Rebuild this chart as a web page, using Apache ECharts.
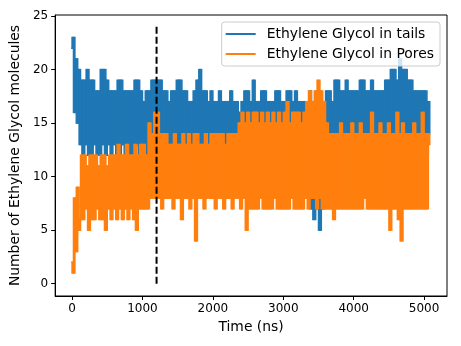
<!DOCTYPE html>
<html>
<head>
<meta charset="utf-8">
<script src="https://cdn.jsdelivr.net/npm/echarts@6/dist/echarts.min.js"></script>
<style>
  html, body { margin: 0; padding: 0; background: #fff; }
  #chart { width: 461px; height: 346px; }
</style>
</head>
<body>
<div id="chart"></div>
<script>
// sampling step of the time series (ns)
var timeStep = 20;

// Ethylene Glycol in tails, one value every 20 ns (rows of 400 ns)
var tails = [
  22, 23, 16, 21, 15, 20, 13, 19, 12, 19, 13, 20, 12, 19, 12, 19, 13, 18, 12, 18,
  12, 20, 13, 20, 12, 19, 13, 18, 12, 18, 13, 18, 11, 19, 12, 19, 13, 18, 12, 18,
  13, 18, 12, 18, 12, 19, 13, 19, 12, 18, 13, 17, 12, 18, 12, 18, 13, 19, 12, 19,
  12, 19, 13, 19, 12, 18, 12, 18, 13, 17, 12, 18, 13, 18, 12, 19, 12, 19, 13, 18,
  12, 18, 13, 17, 12, 17, 12, 18, 13, 19, 12, 20, 13, 18, 12, 18, 12, 17, 13, 18,
  12, 17, 12, 17, 13, 18, 12, 17, 12, 17, 13, 17, 12, 18, 12, 17, 13, 17, 12, 16,
  11, 17, 12, 18, 11, 18, 10, 17, 11, 19, 11, 17, 12, 17,  9, 18, 11, 18, 12, 17,
  11, 17, 10, 17, 12, 18, 11, 18,  9, 17, 11, 17, 11, 18, 10, 18, 11, 17, 11, 18,
  10, 17, 11, 17,  9, 17,  8, 17, 10, 18,  7, 17,  6, 17,  7, 18,  5, 17,  7, 17,
  11, 18, 12, 18, 11, 17, 12, 19, 12, 19, 11, 18, 12, 18, 12, 19, 12, 18, 11, 18,
  12, 18, 12, 18, 11, 19, 12, 19, 12, 18, 12, 18, 11, 19, 12, 18, 12, 18, 12, 18,
  12, 18, 12, 19, 11, 19, 12, 20, 12, 20, 12, 19, 11, 21,  9, 20, 11, 20, 12, 19,
  12, 19, 12, 18, 11, 18, 12, 18, 12, 18, 12, 18, 12, 17, 14
];

// Ethylene Glycol in Pores, same sampling
var pores = [
   2,  1,  8,  3,  9,  5,  6, 12,  6, 12,  7, 11,  5, 12,  6, 12,  6, 12,  7, 11,
   6, 12,  6, 12,  5, 11,  7, 12,  6, 12,  7, 12,  6, 13,  7, 12,  6, 12,  7, 13,
   6, 12,  7, 12,  6, 13,  5, 12,  7, 13,  7, 13,  7, 12,  7, 15,  8, 14,  8, 16,
   8, 16,  8, 14,  7, 14,  8, 14,  8, 13,  8, 13,  7, 14,  8, 13,  8, 13,  6, 14,
   8, 13,  8, 14,  7, 13,  8, 14,  4, 14,  8, 13,  8, 13,  7, 14,  8, 13,  8, 14,
   8, 14,  7, 14,  8, 14,  8, 14,  7, 13,  8, 14,  8, 14,  7, 14,  8, 14,  8, 15,
   7, 16,  8, 15,  5, 16,  7, 15,  7, 16,  7, 16,  7, 15,  8, 16,  7, 15,  7, 16,
   7, 15,  7, 16,  8, 15,  7, 16,  7, 15,  7, 16,  7, 17,  7, 15,  8, 16,  7, 16,
   7, 16,  7, 15,  7, 16,  8, 17,  7, 18,  8, 17,  8, 18,  7, 19,  8, 18,  7, 17,
   7, 15,  7, 14,  7, 14,  6, 14,  7, 14,  7, 15,  7, 14,  7, 14,  7, 14,  7, 15,
   7, 14,  7, 14,  7, 15,  7, 14,  8, 14,  7, 14,  7, 16,  7, 14,  7, 14,  7, 15,
   7, 14,  7, 14,  7, 15,  5, 14,  7, 14,  7, 16,  6, 14,  4, 15,  7, 14,  7, 14,
   7, 14,  7, 15,  7, 14,  7, 14,  7, 16,  7, 14,  7, 14, 13
];

// vertical dashed marker
var markerTime = 1200;
var markerRange = [0, 24];

var xTicks = [0, 1000, 2000, 3000, 4000, 5000];
var yTicks = [0, 5, 10, 15, 20, 25];

// [time, value, previous value] for each sample
function toRows(vals) {
  var out = [];
  for (var i = 0; i < vals.length; i++) {
    out.push([i * timeStep, vals[i], i > 0 ? vals[i - 1] : vals[i]]);
  }
  return out;
}

// the trace is so dense that each step from the previous sample to this one
// fills its slice of the band; draw that slice as a rect, slightly overlapping
// its neighbours so no antialias seams appear
function bandRenderer(color) {
  return function (params, api) {
    var t = api.value(0);
    var a = api.coord([params.dataIndex === 0 ? t : t - timeStep, api.value(2)]);
    var c = api.coord([t, api.value(1)]);
    var top = Math.min(a[1], c[1]) - 0.75;
    var bot = Math.max(a[1], c[1]) + 0.75;
    var left = a[0] - 0.75;
    var right = c[0] + 0.75;
    return {
      type: 'rect',
      shape: { x: left, y: top, width: right - left, height: bot - top },
      style: { fill: color }
    };
  };
}

var font = 'DejaVu Sans';
var chart = echarts.init(document.getElementById('chart'), null, { renderer: 'canvas' });

var option = {
  animation: false,
  backgroundColor: '#fff',
  grid: {
    left: 53, right: 14, top: 15, bottom: 50,
    show: true, borderColor: '#000', borderWidth: 1, backgroundColor: 'transparent'
  },
  legend: {
    orient: 'vertical',
    right: 21, top: 22,
    itemWidth: 30, itemHeight: 2, itemGap: 6,
    backgroundColor: 'rgba(255,255,255,0.8)',
    borderColor: '#ccc', borderWidth: 1, borderRadius: 3,
    padding: [5, 6, 5, 4],
    textStyle: { fontFamily: font, fontSize: 13.9, color: '#000', padding: [0, 0, 0, 6] },
    data: [
      { name: 'Ethylene Glycol in tails', icon: 'rect', itemStyle: { color: '#1f77b4' } },
      { name: 'Ethylene Glycol in Pores', icon: 'rect', itemStyle: { color: '#ff7f0e' } }
    ]
  },
  xAxis: {
    type: 'value',
    min: -240, max: 5325,
    name: 'Time (ns)', nameLocation: 'middle', nameGap: 23,
    nameTextStyle: { fontFamily: font, fontSize: 13.9, color: '#000' },
    axisLine: { show: true, onZero: false, lineStyle: { color: '#000', width: 1 } },
    axisTick: { show: true, length: 4, customValues: xTicks, lineStyle: { color: '#000' } },
    axisLabel: {
      customValues: xTicks, fontFamily: font, fontSize: 12, color: '#000', margin: 7,
      formatter: function (v) { return String(v); }
    },
    splitLine: { show: false }
  },
  yAxis: {
    type: 'value',
    min: -1.15, max: 25.1,
    name: 'Number of Ethylene Glycol molecules', nameLocation: 'middle', nameGap: 29,
    nameTextStyle: { fontFamily: font, fontSize: 13.9, color: '#000' },
    axisLine: { show: true, onZero: false, lineStyle: { color: '#000', width: 1 } },
    axisTick: { show: true, length: 4, customValues: yTicks, lineStyle: { color: '#000' } },
    axisLabel: {
      customValues: yTicks, fontFamily: font, fontSize: 12, color: '#000', margin: 7,
      formatter: function (v) { return String(v); }
    },
    splitLine: { show: false }
  },
  series: [
    {
      name: 'Ethylene Glycol in tails',
      type: 'custom', clip: true,
      renderItem: bandRenderer('#1f77b4'),
      encode: { x: 0, y: 1 },
      itemStyle: { color: '#1f77b4' },
      data: toRows(tails), z: 2
    },
    {
      name: 'Ethylene Glycol in Pores',
      type: 'custom', clip: true,
      renderItem: bandRenderer('#ff7f0e'),
      encode: { x: 0, y: 1 },
      itemStyle: { color: '#ff7f0e' },
      data: toRows(pores), z: 3
    },
    {
      name: 'marker',
      type: 'line', showSymbol: false, silent: true,
      lineStyle: { color: '#000', width: 2, type: [7, 3] },
      data: [[markerTime, markerRange[0]], [markerTime, markerRange[1]]], z: 4
    }
  ]
};
chart.setOption(option);
</script>
</body>
</html>
